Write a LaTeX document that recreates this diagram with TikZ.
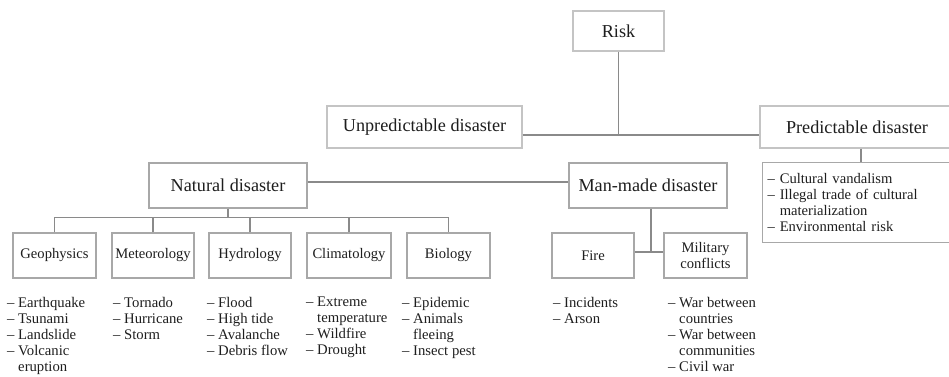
\documentclass[tikz,border=0pt]{standalone}
\usepackage{fontspec}
\setmainfont{Liberation Serif}
\newcommand{\li}{\textendash\ }
\newcommand{\lc}{\phantom{\textendash\ }}
\definecolor{boxline}{HTML}{C4C4C4}
\definecolor{boxlinedark}{HTML}{A8A8A8}
\definecolor{connline}{HTML}{8A8A8A}
\definecolor{ink}{HTML}{1E1E1E}
\begin{document}
\begin{tikzpicture}[x=1pt,y=1pt,
  topbox/.style={draw=boxline,line width=1.3pt,fill=white,text=ink,
    minimum height=42pt,inner sep=2pt,font=\fontsize{18.2}{19}\selectfont},
  midbox/.style={draw=boxlinedark,line width=1.2pt,fill=white,text=ink,
    minimum width=158pt,minimum height=45pt,inner sep=2pt,font=\fontsize{18.2}{19}\selectfont},
  leafbox/.style={draw=boxlinedark,line width=1.2pt,fill=white,text=ink,
    minimum width=83pt,minimum height=45pt,inner sep=2pt,align=center,
    font=\fontsize{14.6}{16}\selectfont},
  itemlist/.style={anchor=north west,inner sep=0pt,align=left,text=ink,
    font=\fontsize{14.7}{15.9}\selectfont},
  conn/.style={draw=connline,line width=1.4pt}]
\useasboundingbox (0,0) rectangle (949,376);
\clip (0,0) rectangle (949,376);

% top level
\node[topbox,minimum width=91pt,minimum height=40pt] (risk) at (618.5,345) {Risk};
\node[topbox,minimum width=195pt] (unpred) at (424.5,249) {Unpredictable disaster};
\node[topbox,minimum width=194pt] (pred) at (857,249) {Predictable disaster};
\node[draw=boxlinedark,line width=1.2pt,fill=white,text=ink,anchor=north west,
  minimum width=192pt,minimum height=80pt,text width=182pt,inner xsep=5pt,
  inner ysep=0pt,align=left,font=\fontsize{14.6}{15.9}\selectfont] (plist) at (762,214)
  {\li Cultural vandalism\\ \li Illegal trade of cultural\\ \lc materialization\\ \li Environmental risk};

% second level
\node[midbox] (nat) at (228,190.5) {Natural disaster};
\node[midbox] (man) at (648,190.5) {Man-made disaster};

% leaves
\node[leafbox] (geo) at (54.5,120.5) {Geophysics};
\node[leafbox,minimum width=82pt] (met) at (153,120.5) {Meteorology};
\node[leafbox,minimum width=82pt] (hyd) at (250,120.5) {Hydrology};
\node[leafbox,minimum width=84pt] (cli) at (349,120.5) {Climatology};
\node[leafbox] (bio) at (448.5,120.5) {Biology};
\node[leafbox,minimum width=82pt] (fire) at (593,120.5) {Fire};
\node[leafbox] (mil) at (705.5,120.5) {Military\\conflicts};

% item lists
\node[itemlist] (geol) at (7,79) {\li Earthquake\\ \li Tsunami\\ \li Landslide\\ \li Volcanic\\ \lc eruption};
\node[itemlist] (metl) at (113,79) {\li Tornado\\ \li Hurricane\\ \li Storm};
\node[itemlist] (hydl) at (207,79) {\li Flood\\ \li High tide\\ \li Avalanche\\ \li Debris flow};
\node[itemlist] (clil) at (306,79) {\li Extreme\\ \lc temperature\\ \li Wildfire\\ \li Drought};
\node[itemlist] (biol) at (402,79) {\li Epidemic\\ \li Animals\\ \lc fleeing\\ \li Insect pest};
\node[itemlist] (firel) at (553,79) {\li Incidents\\ \li Arson};
\node[itemlist] (mill) at (668,79) {\li War between\\ \lc countries\\ \li War between\\ \lc communities\\ \li Civil war};

% connectors: top level
\path ([yshift=-8pt]unpred.east) coordinate (ul);
\draw[conn] (ul) -- (ul -| pred.west);
\draw[conn] (risk.south) -- (risk.south |- ul);
\draw[conn] ([xshift=4pt]pred.south) -- ([xshift=4pt]pred.south |- plist.north);

% connectors: natural / man-made
\draw[conn] ([yshift=3.5pt]nat.east) -- ([yshift=3.5pt]man.west);

% connectors: natural disaster tree
\draw[conn] (nat.south) -- ++(0,-9) coordinate (nb);
\draw[conn] (geo.north) |- (bio.north |- nb) -- (bio.north);
\draw[conn] (met.north) -- (met.north |- nb);
\draw[conn] (hyd.north) -- (hyd.north |- nb);
\draw[conn] (cli.north) -- (cli.north |- nb);

% connectors: man-made tree
\path ([yshift=3.5pt]fire.east) coordinate (fe);
\draw[conn] (fe) -- (fe -| mil.west);
\draw[conn] ([xshift=3pt]man.south) -- ([xshift=3pt]man.south |- fe);
\end{tikzpicture}
\end{document}
